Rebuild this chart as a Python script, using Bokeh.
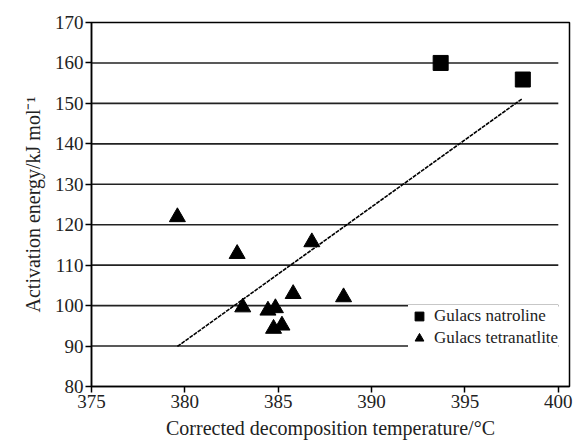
from bokeh.plotting import figure
from bokeh.models import Range1d, FixedTicker, Legend, LegendItem
from bokeh.embed import file_html
from bokeh.resources import INLINE

# Data
natroline_temp = [393.7, 398.1]
natroline_ea = [160.0, 155.9]

tetranatrolite_temp = [379.6, 382.8, 386.8, 383.1, 384.45, 384.85, 385.8, 388.5, 384.75, 385.2]
tetranatrolite_ea = [121.9, 112.8, 115.7, 99.6, 98.8, 99.4, 102.9, 102.1, 94.3, 95.1]

fit_temp = [379.6, 398.05]
fit_ea = [89.9, 151.1]

grid_levels = [90, 100, 110, 120, 130, 140, 150, 160]
x_ticks = [375, 380, 385, 390, 395, 400]
y_ticks = [80, 90, 100, 110, 120, 130, 140, 150, 160, 170]

FONT = "Liberation Serif"

p = figure(width=575, height=445, output_backend="svg", toolbar_location=None,
           x_range=Range1d(375, 400.6), y_range=Range1d(80, 170),
           min_border_left=91, min_border_right=6, min_border_top=22, min_border_bottom=59)
p.xgrid.visible = False
p.ygrid.visible = False
p.outline_line_color = "black"
p.outline_line_width = 1.5
p.background_fill_color = "white"
p.border_fill_color = "white"

# horizontal reference lines
p.segment(x0=[375] * len(grid_levels), y0=grid_levels,
          x1=[400] * len(grid_levels), y1=grid_levels,
          line_color="#222222", line_width=1.6)

# fit line
p.line(fit_temp, fit_ea, line_color="black", line_width=1.6, line_dash="4 1")

sq = p.scatter(natroline_temp, natroline_ea, marker="square", size=15,
               fill_color="black", line_color="black")
tr = p.scatter(tetranatrolite_temp, tetranatrolite_ea, marker="triangle", size=16,
               fill_color="black", line_color="black")

for ax in (p.xaxis[0], p.yaxis[0]):
    ax.axis_line_width = 1.5
    ax.axis_line_color = "black"
    ax.major_tick_line_width = 1.5
    ax.major_tick_line_color = "black"
    ax.major_tick_in = 0
    ax.major_tick_out = 6
    ax.minor_tick_line_color = None
    ax.major_label_text_font = FONT
    ax.major_label_text_font_size = "19px"
    ax.major_label_text_color = "#222222"
    ax.axis_label_text_font = FONT
    ax.axis_label_text_font_size = "20px"
    ax.axis_label_text_font_style = "normal"
    ax.axis_label_text_color = "#222222"

p.xaxis.ticker = FixedTicker(ticks=x_ticks)
p.yaxis.ticker = FixedTicker(ticks=y_ticks)
p.xaxis.major_label_standoff = 2
p.yaxis.major_label_standoff = 2
p.xaxis.axis_label = "Corrected decomposition temperature/°C"
p.yaxis.axis_label = "Activation energy/kJ mol\u207b\u00b9"
p.xaxis.axis_label_standoff = 6
p.yaxis.axis_label_standoff = 8

legend = Legend(items=[LegendItem(label="Gulacs natroline", renderers=[sq]),
                       LegendItem(label="Gulacs tetranatlite", renderers=[tr])],
                location=(317, 37), padding=4, margin=0, spacing=-2,
                glyph_width=22, glyph_height=22, label_standoff=4,
                label_text_font=FONT, label_text_font_size="17px",
                label_text_color="#222222",
                border_line_color=None, border_line_alpha=0,
                background_fill_color="white", background_fill_alpha=1.0)
p.add_layout(legend)

open("out.html", "w").write(file_html(p, INLINE))
